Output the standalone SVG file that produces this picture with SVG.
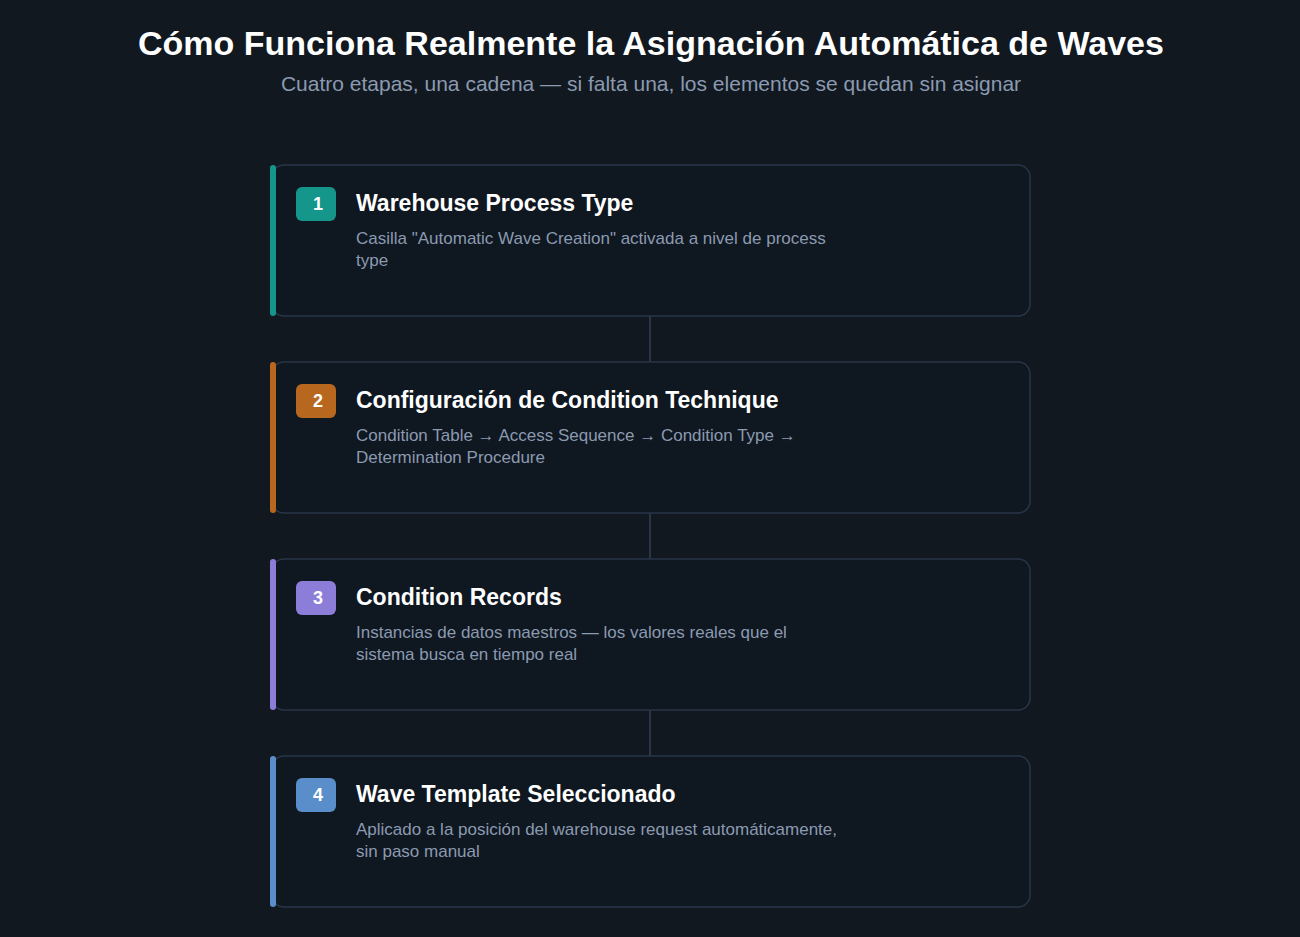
<svg xmlns="http://www.w3.org/2000/svg" width="1300" height="937" viewBox="0 0 1300 937">
<style>
.title{font-family:"Liberation Sans",Arial,sans-serif;font-weight:bold;font-size:34px;fill:#ffffff}
.sub{font-family:"Liberation Sans",Arial,sans-serif;font-size:21px;fill:#8b9ab0}
.card{fill:#0f1720;stroke:#283648;stroke-width:1.5}
.h{font-family:"Liberation Sans",Arial,sans-serif;font-weight:bold;font-size:23px;fill:#ffffff}
.d{font-family:"Liberation Sans",Arial,sans-serif;font-size:17px;fill:#8b9ab0}
.n{font-family:"Liberation Sans",Arial,sans-serif;font-weight:bold;font-size:18px;fill:#ffffff;text-anchor:middle}
.conn{stroke:#283648;stroke-width:2}
</style>
<rect width="1300" height="937" fill="#111820"/>
<text class="title" x="651" y="55" text-anchor="middle">Cómo Funciona Realmente la Asignación Automática de Waves</text>
<text class="sub" x="651" y="91" text-anchor="middle">Cuatro etapas, una cadena — si falta una, los elementos se quedan sin asignar</text>
<g id="connectors">
<line class="conn" x1="650" y1="316" x2="650" y2="362"/>
<line class="conn" x1="650" y1="513" x2="650" y2="559"/>
<line class="conn" x1="650" y1="710" x2="650" y2="756"/>
</g>
<g id="step1">
<rect class="card" x="272" y="165" width="758" height="151" rx="12"/>
<rect x="270" y="165" width="6" height="151" rx="3" fill="#14968a"/>
<rect x="296" y="187" width="40" height="34" rx="6" fill="#14968a"/>
<text class="n" x="318" y="210">1</text>
<text class="h" x="356" y="211">Warehouse Process Type</text>
<text class="d" x="356" y="244">Casilla "Automatic Wave Creation" activada a nivel de process</text>
<text class="d" x="356" y="266">type</text>
</g>
<g id="step2">
<rect class="card" x="272" y="362" width="758" height="151" rx="12"/>
<rect x="270" y="362" width="6" height="151" rx="3" fill="#b8671f"/>
<rect x="296" y="384" width="40" height="34" rx="6" fill="#b8671f"/>
<text class="n" x="318" y="407">2</text>
<text class="h" x="356" y="408">Configuración de Condition Technique</text>
<text class="d" x="356" y="441">Condition Table → Access Sequence → Condition Type →</text>
<text class="d" x="356" y="463">Determination Procedure</text>
</g>
<g id="step3">
<rect class="card" x="272" y="559" width="758" height="151" rx="12"/>
<rect x="270" y="559" width="6" height="151" rx="3" fill="#8b7dd8"/>
<rect x="296" y="581" width="40" height="34" rx="6" fill="#8b7dd8"/>
<text class="n" x="318" y="604">3</text>
<text class="h" x="356" y="605">Condition Records</text>
<text class="d" x="356" y="638">Instancias de datos maestros — los valores reales que el</text>
<text class="d" x="356" y="660">sistema busca en tiempo real</text>
</g>
<g id="step4">
<rect class="card" x="272" y="756" width="758" height="151" rx="12"/>
<rect x="270" y="756" width="6" height="151" rx="3" fill="#5a8ecb"/>
<rect x="296" y="778" width="40" height="34" rx="6" fill="#5a8ecb"/>
<text class="n" x="318" y="801">4</text>
<text class="h" x="356" y="802">Wave Template Seleccionado</text>
<text class="d" x="356" y="835">Aplicado a la posición del warehouse request automáticamente,</text>
<text class="d" x="356" y="857">sin paso manual</text>
</g>
</svg>
